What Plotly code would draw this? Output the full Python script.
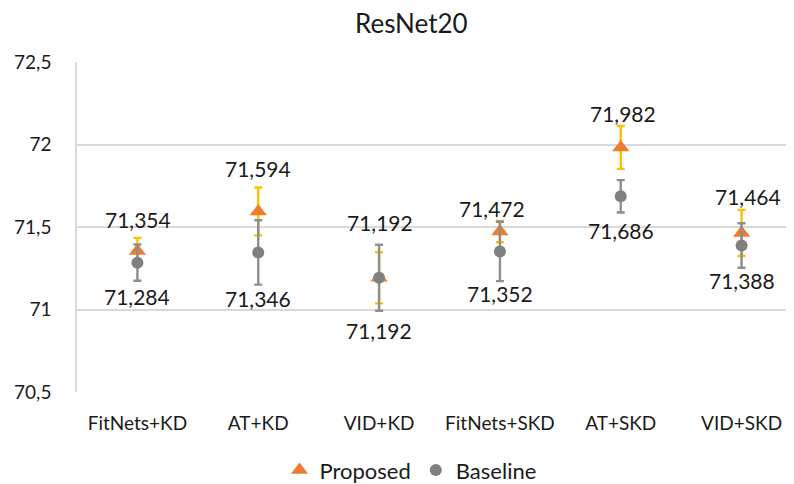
import plotly.graph_objects as go

categories = ["FitNets+KD", "AT+KD", "VID+KD", "FitNets+SKD", "AT+SKD", "VID+SKD"]
proposed = [71.354, 71.594, 71.192, 71.472, 71.982, 71.464]
proposed_err = [0.08, 0.145, 0.155, 0.064, 0.13, 0.14]
baseline = [71.284, 71.346, 71.192, 71.352, 71.686, 71.388]
baseline_err = [0.11, 0.195, 0.20, 0.18, 0.098, 0.135]
y_ticks = [70.5, 71, 71.5, 72, 72.5]

# label offsets (style only, pixels)
p_shift = [32, 43, 55, 23, 34, 36]
p_xshift = [1, 0, 1, -8, 2, 6]
b_shift = [-34, -46, -53, -42, -34, -35]

FONT = "Lato"
TXT = "#1a1a1a"
fig = go.Figure()
fig.add_trace(go.Scatter(
    x=categories, y=proposed, mode="markers", name="Proposed",
    marker=dict(symbol="triangle-up", size=15, color="#ED7D31"),
    error_y=dict(type="data", array=proposed_err, color="#FFC000", thickness=2.4, width=4),
))
fig.add_trace(go.Scatter(
    x=categories, y=baseline, mode="markers", name="Baseline",
    marker=dict(symbol="circle", size=12, color="#808080"),
    error_y=dict(type="data", array=baseline_err, color="#8E8E8E", thickness=2.4, width=4),
))

for i, c in enumerate(categories):
    fig.add_annotation(x=c, y=proposed[i], text=f"{proposed[i]:.3f}".replace(".", ","),
                       showarrow=False, yshift=p_shift[i], xshift=p_xshift[i],
                       font=dict(family=FONT, size=21, color=TXT))
    fig.add_annotation(x=c, y=baseline[i], text=f"{baseline[i]:.3f}".replace(".", ","),
                       showarrow=False, yshift=b_shift[i],
                       font=dict(family=FONT, size=21, color=TXT))

fig.update_layout(
    width=794, height=484,
    margin=dict(l=69, r=0, t=54, b=100),
    paper_bgcolor="white", plot_bgcolor="white",
    separators=",.",
    title=dict(text="ResNet20", x=0.508, xref="container", xanchor="center",
               y=1 - 16 / 484, yref="container", yanchor="middle",
               font=dict(family=FONT, size=26, color=TXT)),
    font=dict(family=FONT, color=TXT),
    showlegend=True,
    legend=dict(orientation="h", x=0.46, xanchor="center", y=-0.237, yanchor="middle",
                font=dict(family=FONT, size=22, color=TXT), itemwidth=30),
    xaxis=dict(range=[-0.5, 5.5], showgrid=False, zeroline=False, showline=False, ticks="",
               tickfont=dict(family=FONT, size=19, color=TXT), ticklabelstandoff=18),
    yaxis=dict(range=[70.5, 72.5], tickvals=y_ticks, showgrid=True, gridcolor="#D9D9D9", gridwidth=1.5,
               zeroline=False, showline=True, linecolor="#D9D9D9", linewidth=1.5, ticks="",
               tickfont=dict(family=FONT, size=19, color=TXT), ticklabelstandoff=20),
)
fig.write_html("out.html")
